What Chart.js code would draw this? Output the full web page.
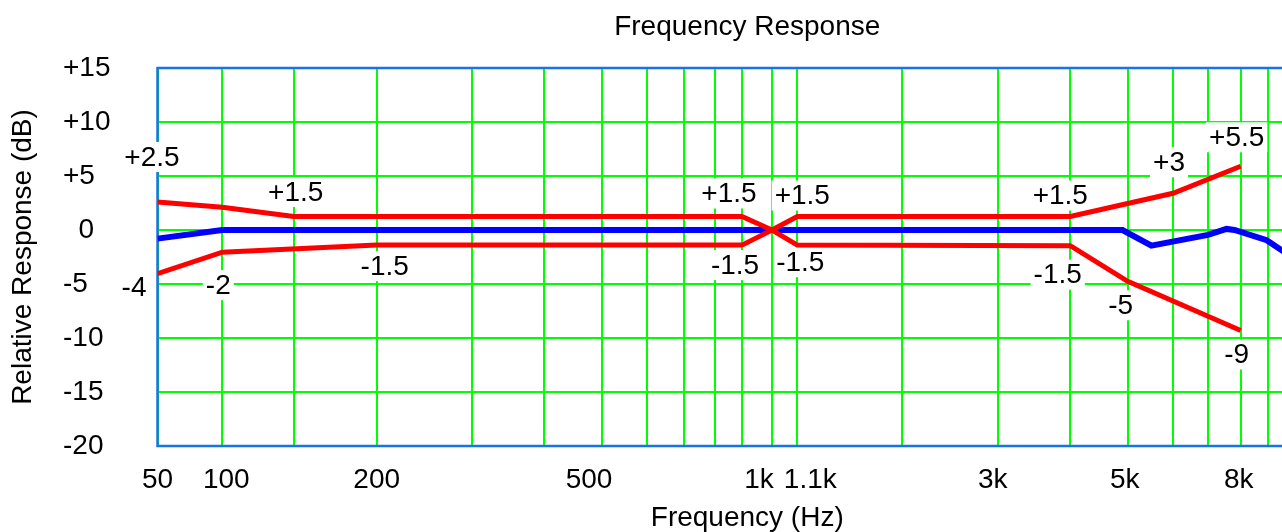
<!DOCTYPE html>
<html>
<head>
<meta charset="utf-8">
<script src="https://cdn.jsdelivr.net/npm/chart.js@4.4.1/dist/chart.umd.min.js"></script>
<style>
html, body { margin: 0; padding: 0; background: #ffffff; overflow: hidden; width: 1282px; height: 532px; }
#wrap { position: absolute; left: 0; top: 0; width: 1340px; height: 532px; }
</style>
</head>
<body>
<div id="wrap"><canvas id="c"></canvas></div>
<script>
// ---------------- data ----------------
const upperFreq = [50, 100, 150, 900, 1000, 1100, 4000, 6000, 8000];
const upperDb   = [2.6, 2.1, 1.25, 1.25, 0, 1.25, 1.25, 3.4, 5.9];
const lowerFreq = [50, 100, 200, 900, 1000, 1100, 4000, 5000, 8000];
const lowerDb   = [-4.05, -2.05, -1.4, -1.4, 0, -1.4, -1.45, -4.75, -9.3];
const respFreq  = [50, 100, 4900, 5500, 7000, 7550, 7800, 8950, 9600, 10000];
const respDb    = [-0.8, 0, 0, -1.45, -0.45, 0.1, 0, -0.95, -2.0, -2.8];
const xGridFreqs = [50, 100, 150, 200, 300, 400, 500, 600, 700, 800, 900, 1000, 1100,
                    2000, 3000, 4000, 5000, 6000, 7000, 8000, 9000, 10000];
const xTickFreqs  = [50, 100, 200, 500, 1000, 1100, 3000, 5000, 8000];
const xTickLabels = ['50', '100', '200', '500', '1k', '1.1k', '3k', '5k', '8k'];
const yTicks = [-20, -15, -10, -5, 0, 5, 10, 15];
const upperLabels = ['+2.5', null, '+1.5', '+1.5', null, '+1.5', '+1.5', '+3', '+5.5'];
const lowerLabels = ['-4', '-2', '-1.5', '-1.5', null, '-1.5', '-1.5', '-5', '-9'];

// ---------------- style / layout ----------------
const FONT_FAMILY = "'Liberation Sans', Arial, Helvetica, sans-serif";
const FONT = '28px ' + FONT_FAMILY;
const GREEN = '#00ff00';
const FRAME = '#1874e6';
// label offsets (px) from their anchor point
const upperNudge = [[-5.5, -44], null, [2, -23.5], [-13, -22], null, [5, -20], [-10, -20], [-4, -30], [-4, -28]];
const lowerNudge = [[-23.5, 15], [-4, 34], [8, 22], [-7, 21], null, [3, 18], [-12.6, 30], [-7, 25], [-4, 25]];
const xTickNudge = [0, 4, 0, -13, -13, 13, -5, -3, -2];
// axis warp: frequency -> relative position along the axis (piecewise log)
const warpKnots = [[50,0],[100,64.8],[150,136.2],[200,219.2],[300,314.5],[400,386.8],[500,444.5],
  [600,489.5],[700,526.2],[800,557.8],[900,584.5],[1000,614.5],[1100,639.8],[2000,744.8],
  [3000,840.2],[4000,912.8],[5000,970.2],[6000,1015.5],[7000,1050.5],[8000,1083.2],
  [9000,1110.5],[10000,1136],[12000,1179.5]];
const warpTotal = warpKnots[warpKnots.length - 1][1];

function warp(v) {
  const k = warpKnots;
  let i = 0;
  while (i < k.length - 2 && v > k[i + 1][0]) i++;
  const t = Math.log(v / k[i][0]) / Math.log(k[i + 1][0] / k[i][0]);
  return (k[i][1] + t * (k[i + 1][1] - k[i][1])) / warpTotal;
}
function unwarp(d) {
  const k = warpKnots;
  const p = d * warpTotal;
  let i = 0;
  while (i < k.length - 2 && p > k[i + 1][1]) i++;
  const t = (p - k[i][1]) / (k[i + 1][1] - k[i][1]);
  return k[i][0] * Math.pow(k[i + 1][0] / k[i][0], t);
}

class WarpScale extends Chart.LinearScale {
  getPixelForValue(value) {
    if (value === null || value === undefined) return NaN;
    return this.getPixelForDecimal(warp(value));
  }
  getValueForPixel(pixel) {
    return unwarp(this.getDecimalForPixel(pixel));
  }
}
WarpScale.id = 'warp';
WarpScale.defaults = {};
Chart.register(WarpScale);

const toXY = (xs, ys) => xs.map((x, i) => ({ x: x, y: ys[i] }));

const deco = {
  id: 'deco',
  labelItems(chart) {
    const xs = chart.scales.x, ys = chart.scales.y;
    const out = [];
    const add = (freqs, dbs, texts, nudges) => {
      texts.forEach((t, i) => {
        if (!t) return;
        out.push({ text: t,
          x: xs.getPixelForValue(freqs[i]) + nudges[i][0],
          y: ys.getPixelForValue(dbs[i]) + nudges[i][1] });
      });
    };
    add(upperFreq, upperDb, upperLabels, upperNudge);
    add(lowerFreq, lowerDb, lowerLabels, lowerNudge);
    return out;
  },
  beforeDatasetsDraw(chart) {
    const { ctx, chartArea: a } = chart;
    ctx.save();
    ctx.strokeStyle = FRAME;
    ctx.lineWidth = 2.5;
    ctx.strokeRect(a.left, a.top, a.right - a.left, a.bottom - a.top);
    ctx.font = FONT;
    ctx.fillStyle = '#ffffff';
    for (const L of this.labelItems(chart)) {
      const w = ctx.measureText(L.text).width;
      ctx.fillRect(L.x - w / 2 - 3, L.y - 16, w + 6, 30);
    }
    ctx.restore();
  },
  afterDatasetsDraw(chart) {
    const { ctx, chartArea: a } = chart;
    const xs = chart.scales.x;
    ctx.save();
    ctx.font = FONT;
    ctx.fillStyle = '#000000';
    ctx.textAlign = 'center';
    ctx.textBaseline = 'middle';
    for (const L of this.labelItems(chart)) ctx.fillText(L.text, L.x, L.y);
    xTickFreqs.forEach((f, i) => {
      ctx.fillText(xTickLabels[i], xs.getPixelForValue(f) + xTickNudge[i], 480);
    });
    const cx = (a.left + a.right) / 2;
    ctx.fillText('Frequency Response', cx, 27);
    ctx.fillText('Frequency (Hz)', cx, 518);
    ctx.translate(23, (a.top + a.bottom) / 2);
    ctx.rotate(-Math.PI / 2);
    ctx.fillText('Relative Response (dB)', 0, 0);
    ctx.restore();
  }
};

Chart.defaults.font.family = FONT_FAMILY;

new Chart(document.getElementById('c'), {
  type: 'line',
  data: {
    datasets: [
      { label: 'Upper limit', data: toXY(upperFreq, upperDb), borderColor: '#ff0000', borderWidth: 5, order: 0 },
      { label: 'Lower limit', data: toXY(lowerFreq, lowerDb), borderColor: '#ff0000', borderWidth: 5, order: 0 },
      { label: 'Response', data: toXY(respFreq, respDb), borderColor: '#0000ff', borderWidth: 6, order: 1 }
    ]
  },
  options: {
    responsive: true,
    maintainAspectRatio: false,
    animation: false,
    devicePixelRatio: 1,
    layout: { padding: { left: 63, top: 68, right: 3, bottom: 0 } },
    elements: { point: { radius: 0, hoverRadius: 0 }, line: { tension: 0, fill: false, borderCapStyle: 'butt', borderJoinStyle: 'miter' } },
    plugins: { legend: { display: false }, tooltip: { enabled: false }, title: { display: false } },
    scales: {
      x: {
        type: 'warp',
        min: 50, max: 12000,
        bounds: 'data',
        afterBuildTicks: (s) => { s.ticks = xGridFreqs.map(v => ({ value: v })); },
        afterFit: (s) => { s.height = 86; },
        ticks: { display: false },
        grid: { color: GREEN, lineWidth: 2, drawTicks: false },
        border: { display: false }
      },
      y: {
        type: 'linear',
        min: -20, max: 15,
        afterBuildTicks: (s) => { s.ticks = yTicks.map(v => ({ value: v })); },
        afterFit: (s) => { s.width = 94.5; },
        ticks: {
          autoSkip: false,
          crossAlign: 'far',
          color: '#000000',
          font: { size: 28, family: FONT_FAMILY },
          callback: (v) => v > 0 ? '+' + v : (v === 0 ? '  0' : String(v))
        },
        grid: { color: GREEN, lineWidth: 2, drawTicks: false },
        border: { display: false }
      }
    }
  },
  plugins: [deco]
});
</script>
</body>
</html>
